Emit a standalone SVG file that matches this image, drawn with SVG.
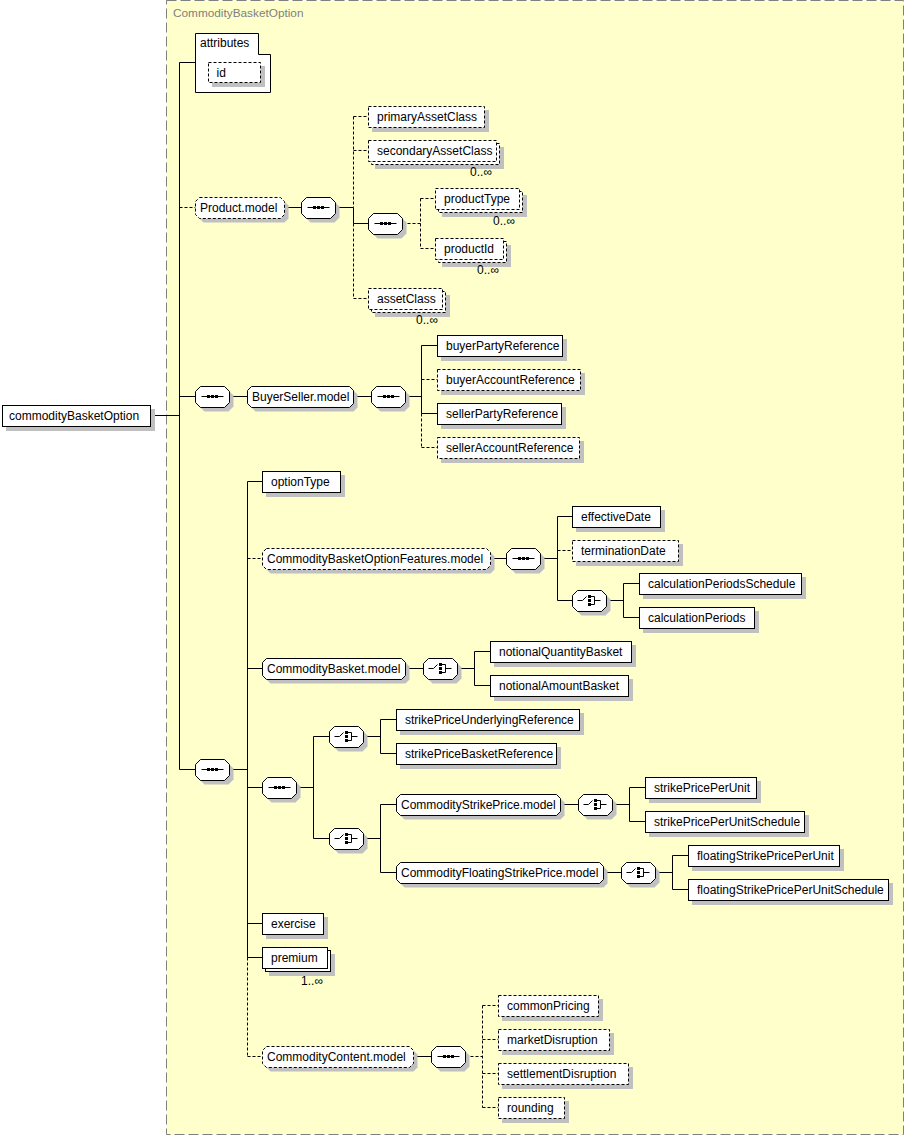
<svg xmlns="http://www.w3.org/2000/svg" xmlns:xlink="http://www.w3.org/1999/xlink" width="906" height="1136" viewBox="0 0 906 1136">
<style>
.b{fill:#fff;stroke:#000;stroke-width:1}
.o{stroke-dasharray:3,2}
.sh{fill:#c0c0c0;stroke:none}
.c{fill:none;stroke:#000;stroke-width:1}
.d{stroke-dasharray:3,2}
.k{fill:#000;stroke:none}
.t{font-family:"Liberation Sans",Arial,sans-serif;font-size:12px;fill:#000}
.m{font-family:"Liberation Sans",Arial,sans-serif;font-size:12px;fill:#000;text-anchor:end}
.ttl{font-family:"Liberation Sans",Arial,sans-serif;font-size:11.8px;fill:#808080}
</style>
<defs>
<g id="seq">
<path class="sh" d="M9,4 h24 l5,5 v11 l-5,5 h-24 l-5,-5 v-11 z"/>
<path class="b" d="M5,0 h24 l5,5 v11 l-5,5 h-24 l-5,-5 v-11 z"/>
<path class="c" d="M6,10 H28"/>
<rect class="k" x="11.5" y="8.5" width="3" height="3"/>
<rect class="k" x="15.5" y="8.5" width="3" height="3"/>
<rect class="k" x="19.5" y="8.5" width="3" height="3"/>
</g>
<g id="cho">
<path class="sh" d="M9,4 h24 l5,5 v11 l-5,5 h-24 l-5,-5 v-11 z"/>
<path class="b" d="M5,0 h24 l5,5 v11 l-5,5 h-24 l-5,-5 v-11 z"/>
<path class="c" d="M5,10 H10 L14,6"/>
<rect class="k" x="15.5" y="4.5" width="3" height="3"/>
<rect class="k" x="15.5" y="8.5" width="3" height="3"/>
<rect class="k" x="15.5" y="12.5" width="3" height="3"/>
<path class="c" d="M18,6 H22 V14 H18 M22,10 H28"/>
</g>
</defs>
<rect x="0" y="0" width="906" height="1136" fill="#fff"/>
<g id="CommodityBasketOption-type">
<rect x="166.5" y="0.5" width="737" height="1134" fill="#ffffcc" stroke="#808080" stroke-width="1" stroke-dasharray="10,4"/>
<text class="ttl" x="173" y="17">CommodityBasketOption</text>
</g>
<g id="connectors">
<path class="c" d="M150.5,415.5 H179.5 M179.5,62.5 V769.5 M179.5,62.5 H195.5
M179.5,396.5 H195.5 M229.5,396.5 H247.5 M353.5,396.5 H371.5 M405.5,396.5 H421.5
M421.5,345.5 V413.5 M421.5,345.5 H437.5 M421.5,413.5 H437.5
M284.5,207.5 H301.5 M335.5,207.5 H353.5 M353.5,207.5 V223.5 M353.5,223.5 H368.5
M179.5,769.5 H195.5 M229.5,769.5 H247.5
M247.5,481.5 V957.5 M247.5,481.5 H262.5 M247.5,668.5 H262.5 M247.5,787.5 H262.5 M247.5,923.5 H262.5 M247.5,957.5 H262.5
M490.5,558.5 H506.5 M540.5,558.5 H557.5 M557.5,516.5 V600.5 M557.5,516.5 H572.5 M557.5,600.5 H572.5
M606.5,600.5 H623.5 M623.5,583.5 V617.5 M623.5,583.5 H639.5 M623.5,617.5 H639.5
M405.5,668.5 H423.5 M457.5,668.5 H474.5 M474.5,651.5 V685.5 M474.5,651.5 H490.5 M474.5,685.5 H490.5
M296.5,787.5 H313.5 M313.5,736.5 V838.5 M313.5,736.5 H329.5 M313.5,838.5 H329.5
M363.5,736.5 H380.5 M380.5,719.5 V753.5 M380.5,719.5 H396.5 M380.5,753.5 H396.5
M363.5,838.5 H380.5 M380.5,804.5 V872.5 M380.5,804.5 H396.5 M380.5,872.5 H396.5
M560.5,804.5 H578.5 M612.5,804.5 H629.5 M629.5,787.5 V821.5 M629.5,787.5 H645.5 M629.5,821.5 H645.5
M603.5,872.5 H621.5 M655.5,872.5 H672.5 M672.5,855.5 V889.5 M672.5,855.5 H688.5 M672.5,889.5 H688.5
M413.5,1056.5 H431.5"/>
<path class="c d" d="M179.5,207.5 H195.5
M353.5,116.5 V207.5 M353.5,223.5 V298.5 M353.5,116.5 H368.5 M353.5,150.5 H368.5 M353.5,298.5 H368.5
M402.5,223.5 H420.5 M420.5,198.5 V248.5 M420.5,198.5 H435.5 M420.5,248.5 H435.5
M421.5,413.5 V447.5 M421.5,379.5 H437.5 M421.5,447.5 H437.5
M247.5,558.5 H262.5 M557.5,550.5 H572.5
M247.5,957.5 V1056.5 M247.5,1056.5 H262.5
M465.5,1056.5 H482.5 M482.5,1005.5 V1107.5 M482.5,1005.5 H498.5 M482.5,1039.5 H498.5 M482.5,1073.5 H498.5 M482.5,1107.5 H498.5"/>
</g>
<g id="commodityBasketOption">
<rect class="sh" x="6" y="409" width="149" height="22"/>
<rect class="b" x="2.5" y="405.5" width="148" height="21"/>
<text class="t" x="9" y="420">commodityBasketOption</text>
</g>
<g id="attributes">
<path class="b" d="M195.5,33.5 H258.5 V54.5 H270.5 V92.5 H195.5 Z"/>
<text class="t" x="200" y="47">attributes</text>
</g>
<g id="attr-id">
<rect class="sh" x="212" y="66" width="53" height="21"/>
<rect class="b o" x="208.5" y="62.5" width="52" height="20"/>
<text class="t" x="216.5" y="76.5">id</text>
</g>
<g id="Product.model">
<path class="sh" d="M203.5,201.5 h81 l4,4 v13 l-4,4 h-81 l-4,-4 v-13 z"/>
<path class="b o" d="M199.5,197.5 h81 l4,4 v13 l-4,4 h-81 l-4,-4 v-13 z"/>
<text class="t" x="200" y="212">Product.model</text>
</g>
<g id="seq-product"><use xlink:href="#seq" x="301.5" y="197.5"/></g>
<g id="primaryAssetClass">
<rect class="sh" x="372" y="110" width="117" height="22"/>
<rect class="b o" x="368.5" y="106.5" width="116" height="21"/>
<text class="t" x="377" y="121">primaryAssetClass</text>
</g>
<g id="secondaryAssetClass">
<rect class="sh" x="375" y="147" width="129" height="22"/>
<rect class="b o" x="371.5" y="143.5" width="128" height="21"/>
<rect class="b o" x="368.5" y="140.5" width="128" height="21"/>
<text class="t" x="377" y="155">secondaryAssetClass</text>
<text class="m" x="492" y="176">0..∞</text>
</g>
<g id="seq-productTypeId"><use xlink:href="#seq" x="368.5" y="213.5"/></g>
<g id="productType">
<rect class="sh" x="442" y="195" width="85" height="22"/>
<rect class="b o" x="438.5" y="191.5" width="84" height="21"/>
<rect class="b o" x="435.5" y="188.5" width="84" height="21"/>
<text class="t" x="444" y="203">productType</text>
<text class="m" x="515" y="225">0..∞</text>
</g>
<g id="productId">
<rect class="sh" x="442" y="245" width="69" height="22"/>
<rect class="b o" x="438.5" y="241.5" width="68" height="21"/>
<rect class="b o" x="435.5" y="238.5" width="68" height="21"/>
<text class="t" x="444" y="253">productId</text>
<text class="m" x="499" y="274">0..∞</text>
</g>
<g id="assetClass">
<rect class="sh" x="375" y="295" width="75" height="22"/>
<rect class="b o" x="371.5" y="291.5" width="74" height="21"/>
<rect class="b o" x="368.5" y="288.5" width="74" height="21"/>
<text class="t" x="377" y="303">assetClass</text>
<text class="m" x="438" y="324">0..∞</text>
</g>
<g id="seq-buyerseller"><use xlink:href="#seq" x="195.5" y="386.5"/></g>
<g id="BuyerSeller.model">
<path class="sh" d="M255.5,390.5 h98 l4,4 v13 l-4,4 h-98 l-4,-4 v-13 z"/>
<path class="b" d="M251.5,386.5 h98 l4,4 v13 l-4,4 h-98 l-4,-4 v-13 z"/>
<text class="t" x="252" y="401">BuyerSeller.model</text>
</g>
<g id="seq-buyerseller-model"><use xlink:href="#seq" x="371.5" y="386.5"/></g>
<g id="buyerPartyReference">
<rect class="sh" x="441" y="339" width="126" height="22"/>
<rect class="b" x="437.5" y="335.5" width="125" height="21"/>
<text class="t" x="446" y="350">buyerPartyReference</text>
</g>
<g id="buyerAccountReference">
<rect class="sh" x="441" y="373" width="144" height="22"/>
<rect class="b o" x="437.5" y="369.5" width="143" height="21"/>
<text class="t" x="446" y="384">buyerAccountReference</text>
</g>
<g id="sellerPartyReference">
<rect class="sh" x="441" y="407" width="125" height="22"/>
<rect class="b" x="437.5" y="403.5" width="124" height="21"/>
<text class="t" x="446" y="418">sellerPartyReference</text>
</g>
<g id="sellerAccountReference">
<rect class="sh" x="441" y="441" width="143" height="22"/>
<rect class="b o" x="437.5" y="437.5" width="142" height="21"/>
<text class="t" x="446" y="452">sellerAccountReference</text>
</g>
<g id="seq-main"><use xlink:href="#seq" x="195.5" y="759.5"/></g>
<g id="optionType">
<rect class="sh" x="266" y="475" width="79" height="22"/>
<rect class="b" x="262.5" y="471.5" width="78" height="21"/>
<text class="t" x="271" y="486">optionType</text>
</g>
<g id="CommodityBasketOptionFeatures.model">
<path class="sh" d="M270.5,552.5 h220 l4,4 v13 l-4,4 h-220 l-4,-4 v-13 z"/>
<path class="b o" d="M266.5,548.5 h220 l4,4 v13 l-4,4 h-220 l-4,-4 v-13 z"/>
<text class="t" x="267" y="563">CommodityBasketOptionFeatures.model</text>
</g>
<g id="seq-features"><use xlink:href="#seq" x="506.5" y="548.5"/></g>
<g id="effectiveDate">
<rect class="sh" x="576" y="510" width="89" height="22"/>
<rect class="b" x="572.5" y="506.5" width="88" height="21"/>
<text class="t" x="581" y="521">effectiveDate</text>
</g>
<g id="terminationDate">
<rect class="sh" x="576" y="544" width="107" height="22"/>
<rect class="b o" x="572.5" y="540.5" width="106" height="21"/>
<text class="t" x="581" y="555">terminationDate</text>
</g>
<g id="choice-calculationPeriods"><use xlink:href="#cho" x="572.5" y="590.5"/></g>
<g id="calculationPeriodsSchedule">
<rect class="sh" x="643" y="577" width="163" height="22"/>
<rect class="b" x="639.5" y="573.5" width="162" height="21"/>
<text class="t" x="648" y="588">calculationPeriodsSchedule</text>
</g>
<g id="calculationPeriods">
<rect class="sh" x="643" y="611" width="116" height="22"/>
<rect class="b" x="639.5" y="607.5" width="115" height="21"/>
<text class="t" x="648" y="622">calculationPeriods</text>
</g>
<g id="CommodityBasket.model">
<path class="sh" d="M270.5,662.5 h135 l4,4 v13 l-4,4 h-135 l-4,-4 v-13 z"/>
<path class="b" d="M266.5,658.5 h135 l4,4 v13 l-4,4 h-135 l-4,-4 v-13 z"/>
<text class="t" x="267" y="673">CommodityBasket.model</text>
</g>
<g id="choice-basket"><use xlink:href="#cho" x="423.5" y="658.5"/></g>
<g id="notionalQuantityBasket">
<rect class="sh" x="494" y="645" width="142" height="22"/>
<rect class="b" x="490.5" y="641.5" width="141" height="21"/>
<text class="t" x="499" y="656">notionalQuantityBasket</text>
</g>
<g id="notionalAmountBasket">
<rect class="sh" x="494" y="679" width="139" height="22"/>
<rect class="b" x="490.5" y="675.5" width="138" height="21"/>
<text class="t" x="499" y="690">notionalAmountBasket</text>
</g>
<g id="seq-strike"><use xlink:href="#seq" x="262.5" y="777.5"/></g>
<g id="choice-strike-reference"><use xlink:href="#cho" x="329.5" y="726.5"/></g>
<g id="strikePriceUnderlyingReference">
<rect class="sh" x="400" y="713" width="184" height="22"/>
<rect class="b" x="396.5" y="709.5" width="183" height="21"/>
<text class="t" x="405" y="724">strikePriceUnderlyingReference</text>
</g>
<g id="strikePriceBasketReference">
<rect class="sh" x="400" y="747" width="161" height="22"/>
<rect class="b" x="396.5" y="743.5" width="160" height="21"/>
<text class="t" x="405" y="758">strikePriceBasketReference</text>
</g>
<g id="choice-strike-price"><use xlink:href="#cho" x="329.5" y="828.5"/></g>
<g id="CommodityStrikePrice.model">
<path class="sh" d="M404.5,798.5 h156 l4,4 v13 l-4,4 h-156 l-4,-4 v-13 z"/>
<path class="b" d="M400.5,794.5 h156 l4,4 v13 l-4,4 h-156 l-4,-4 v-13 z"/>
<text class="t" x="401" y="809">CommodityStrikePrice.model</text>
</g>
<g id="choice-strikePricePerUnit"><use xlink:href="#cho" x="578.5" y="794.5"/></g>
<g id="strikePricePerUnit">
<rect class="sh" x="649" y="781" width="112" height="22"/>
<rect class="b" x="645.5" y="777.5" width="111" height="21"/>
<text class="t" x="654" y="792">strikePricePerUnit</text>
</g>
<g id="strikePricePerUnitSchedule">
<rect class="sh" x="649" y="815" width="160" height="22"/>
<rect class="b" x="645.5" y="811.5" width="159" height="21"/>
<text class="t" x="654" y="826">strikePricePerUnitSchedule</text>
</g>
<g id="CommodityFloatingStrikePrice.model">
<path class="sh" d="M404.5,866.5 h199 l4,4 v13 l-4,4 h-199 l-4,-4 v-13 z"/>
<path class="b" d="M400.5,862.5 h199 l4,4 v13 l-4,4 h-199 l-4,-4 v-13 z"/>
<text class="t" x="401" y="877">CommodityFloatingStrikePrice.model</text>
</g>
<g id="choice-floatingStrikePrice"><use xlink:href="#cho" x="621.5" y="862.5"/></g>
<g id="floatingStrikePricePerUnit">
<rect class="sh" x="692" y="849" width="152" height="22"/>
<rect class="b" x="688.5" y="845.5" width="151" height="21"/>
<text class="t" x="697" y="860">floatingStrikePricePerUnit</text>
</g>
<g id="floatingStrikePricePerUnitSchedule">
<rect class="sh" x="692" y="883" width="201" height="22"/>
<rect class="b" x="688.5" y="879.5" width="200" height="21"/>
<text class="t" x="697" y="894">floatingStrikePricePerUnitSchedule</text>
</g>
<g id="exercise">
<rect class="sh" x="266" y="917" width="62" height="22"/>
<rect class="b" x="262.5" y="913.5" width="61" height="21"/>
<text class="t" x="271" y="928">exercise</text>
</g>
<g id="premium">
<rect class="sh" x="269" y="954" width="66" height="22"/>
<rect class="b" x="265.5" y="950.5" width="65" height="21"/>
<rect class="b" x="262.5" y="947.5" width="65" height="21"/>
<text class="t" x="271" y="962">premium</text>
<text class="m" x="323" y="985">1..∞</text>
</g>
<g id="CommodityContent.model">
<path class="sh" d="M270.5,1050.5 h143 l4,4 v13 l-4,4 h-143 l-4,-4 v-13 z"/>
<path class="b o" d="M266.5,1046.5 h143 l4,4 v13 l-4,4 h-143 l-4,-4 v-13 z"/>
<text class="t" x="267" y="1061">CommodityContent.model</text>
</g>
<g id="seq-content"><use xlink:href="#seq" x="431.5" y="1046.5"/></g>
<g id="commonPricing">
<rect class="sh" x="502" y="999" width="101" height="22"/>
<rect class="b o" x="498.5" y="995.5" width="100" height="21"/>
<text class="t" x="507" y="1010">commonPricing</text>
</g>
<g id="marketDisruption">
<rect class="sh" x="502" y="1033" width="112" height="22"/>
<rect class="b o" x="498.5" y="1029.5" width="111" height="21"/>
<text class="t" x="507" y="1044">marketDisruption</text>
</g>
<g id="settlementDisruption">
<rect class="sh" x="502" y="1067" width="131" height="22"/>
<rect class="b o" x="498.5" y="1063.5" width="130" height="21"/>
<text class="t" x="507" y="1078">settlementDisruption</text>
</g>
<g id="rounding">
<rect class="sh" x="502" y="1101" width="67" height="22"/>
<rect class="b o" x="498.5" y="1097.5" width="66" height="21"/>
<text class="t" x="507" y="1112">rounding</text>
</g>
</svg>
